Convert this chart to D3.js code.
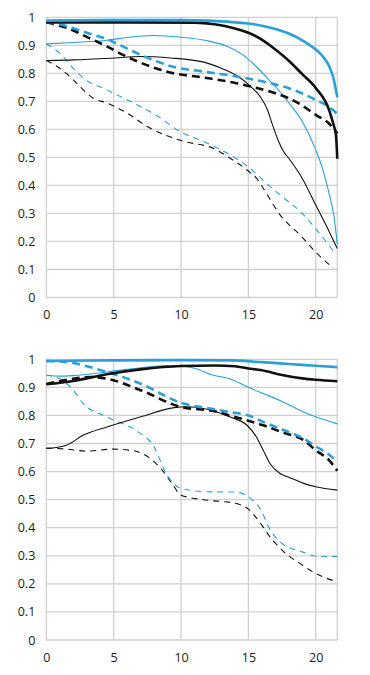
<!DOCTYPE html>
<html>
<head>
<meta charset="utf-8">
<script src="https://cdn.jsdelivr.net/npm/d3@7"></script>
<style>
  body { margin: 0; background: #fff; }
  text { font-family: "Open Sans", "Noto Sans", sans-serif; font-size: 12.5px; fill: #1a1a1a; }
</style>
</head>
<body>
<svg id="chart" width="370" height="675"></svg>
<script>
// axis ticks
var xTicks = [0, 5, 10, 15, 20];
var yTicks = [0, 0.1, 0.2, 0.3, 0.4, 0.5, 0.6, 0.7, 0.8, 0.9, 1];
var xMax = 21.6;

// upper chart  [image height mm, contrast]
var topBlueThick = [[0,.988],[5,.99],[10,.99],[12,.988],[14,.982],[15,.978],[16,.97],[17,.958],[18,.942],[19,.918],[20,.885],[20.5,.862],[21,.825],[21.3,.785],[21.6,.715]];
var topBlackThick = [[0,.982],[6,.982],[11,.981],[12.5,.975],[14,.96],[15,.945],[16,.92],[17,.885],[18,.845],[19,.797],[20,.748],[21,.668],[21.3,.62],[21.5,.58],[21.6,.495]];
var topBlueThickDash = [[0,.982],[1,.975],[2,.961],[3,.945],[4.5,.922],[6,.888],[7,.866],[8.3,.841],[9.2,.826],[11.7,.806],[14.1,.789],[16.6,.765],[18,.747],[19,.728],[20,.705],[21,.68],[21.6,.655]];
var topBlackThickDash = [[0,.982],[1,.97],[2,.953],[3,.93],[4.5,.896],[5.7,.866],[7,.838],[8,.82],[9.2,.803],[11.7,.785],[14.1,.765],[15.1,.754],[16.6,.735],[18,.711],[19,.685],[20,.652],[21,.62],[21.6,.585]];
var topBlueThin = [[0,.905],[2,.91],[4.5,.918],[6,.928],[8,.935],[10,.929],[12,.916],[13.5,.895],[14.6,.866],[15.5,.828],[16.5,.778],[17.3,.737],[18,.695],[19,.628],[20,.527],[20.5,.46],[21,.37],[21.35,.29],[21.6,.19]];
var topBlackThin = [[0,.846],[2,.848],[4.8,.854],[7,.86],[9.2,.855],[11.7,.84],[12.9,.82],[14.1,.793],[15.1,.756],[15.9,.715],[16.4,.672],[16.8,.615],[17.2,.562],[17.6,.522],[18,.497],[19,.425],[20,.33],[21,.235],[21.6,.175]];
var topBlueThinDash = [[0,.905],[1,.872],[2,.818],[2.75,.783],[4.5,.741],[7,.681],[8.3,.646],[10,.59],[11.5,.56],[12.5,.538],[13.65,.509],[15,.466],[16,.423],[17.35,.366],[19,.30],[20,.245],[21,.185],[21.4,.16]];
var topBlackThinDash = [[0,.846],[1,.818],[2,.777],[2.75,.741],[3.5,.711],[4.5,.694],[6,.658],[7.5,.61],[10,.56],[12.5,.53],[13.65,.497],[14.9,.455],[15.6,.426],[16.1,.39],[17.35,.295],[19,.215],[20,.162],[21.3,.105]];

// lower chart
var botBlueThick = [[0,.994],[5,.996],[10,.997],[13.6,.996],[16,.99],[18,.983],[20,.977],[21.6,.972]];
var botBlackThick = [[0,.911],[2,.923],[4.5,.947],[7,.964],[10,.976],[12.5,.978],[14,.975],[15,.967],[16,.961],[17.4,.945],[19,.932],[20,.927],[21.6,.922]];
var botBlueThickDash = [[0,.994],[2,.987],[3,.975],[4.5,.955],[7,.913],[10,.845],[12.5,.822],[13.6,.812],[15,.80],[16.1,.777],[17.5,.75],[19.1,.718],[20,.69],[21,.66],[21.6,.635]];
var botBlackThickDash = [[0,.912],[1,.922],[2,.931],[3.2,.937],[4.5,.931],[7,.89],[10,.83],[12.5,.815],[13.6,.80],[16.1,.765],[17.5,.74],[19.1,.712],[20,.676],[21,.64],[21.6,.603]];
var botBlueThin = [[0,.943],[1,.94],[2,.942],[4.5,.955],[7,.97],[9,.977],[10,.976],[11,.968],[12.4,.943],[13.6,.931],[15,.90],[16.1,.878],[17.5,.85],[19.1,.8125],[20,.795],[21.6,.77]];
var botBlackThin = [[0,.682],[1.5,.694],[2.75,.73],[4.5,.759],[7,.795],[9.5,.828],[10.3,.831],[12.5,.815],[13.6,.795],[14.9,.765],[15.6,.723],[16.1,.676],[16.6,.629],[17.35,.593],[18,.58],[19.1,.558],[20,.546],[21.6,.534]];
var botBlueThinDash = [[0,.943],[1,.931],[2,.89],[2.75,.842],[4.5,.795],[7,.735],[8,.688],[8.3,.658],[8.7,.611],[9.3,.565],[10,.54],[12,.528],[14,.527],[15,.51],[16,.457],[16.5,.403],[17.5,.344],[19,.314],[20,.299],[21.6,.297]];
var botBlackThinDash = [[0,.684],[1.5,.68],[3,.673],[5,.68],[6.5,.674],[7.7,.647],[8.5,.611],[9.3,.56],[10,.516],[12,.498],[14,.487],[15,.466],[16,.409],[16.5,.374],[17.5,.32],[19,.267],[20,.237],[21.6,.207]];

var blue = "#2a9fd9", black = "#111";

var svg = d3.select("#chart");
var x = d3.scaleLinear().domain([0, xMax]).range([46.3, 337.3]);

function panel(top, bottom, lines) {
    var y = d3.scaleLinear().domain([0, 1]).range([bottom, top]);
    var g = svg.append("g");

    // grid
    g.selectAll(".hg").data(yTicks).enter().append("line")
        .attr("x1", x(0)).attr("x2", x(xMax))
        .attr("y1", function(d) { return y(d); }).attr("y2", function(d) { return y(d); })
        .attr("stroke", "#d0d0d0").attr("stroke-width", 1.3);
    g.selectAll(".vg").data(xTicks.concat([xMax])).enter().append("line")
        .attr("x1", function(d) { return x(d); }).attr("x2", function(d) { return x(d); })
        .attr("y1", y(0)).attr("y2", y(1))
        .attr("stroke", "#d0d0d0").attr("stroke-width", 1.3);

    // tick labels
    var ya = g.append("g").attr("transform", "translate(" + x(0) + ",0)")
        .call(d3.axisLeft(y).tickValues(yTicks).tickSize(0).tickPadding(11).tickFormat(function(d) { return d3.format("~g")(d); }));
    var xa = g.append("g").attr("transform", "translate(0," + y(0) + ")")
        .call(d3.axisBottom(x).tickValues(xTicks).tickSize(0).tickPadding(13));
    [ya, xa].forEach(function(a) {
        a.select(".domain").remove();
        a.selectAll("text").attr("font-family", null).attr("font-size", null).attr("fill", null);
    });

    var line = d3.line()
        .x(function(d) { return x(d[0]); })
        .y(function(d) { return y(d[1]); })
        .curve(d3.curveMonotoneX);

    lines.forEach(function(s) {
        g.append("path")
            .datum(s.data)
            .attr("d", line)
            .attr("fill", "none")
            .attr("stroke", s.color)
            .attr("stroke-width", s.thick ? 2.6 : 1.1)
            .attr("stroke-dasharray", s.dash ? (s.thick ? "8,5" : "6,5") : null);
    });
}

panel(17.3, 297.5, [
    { data: topBlackThinDash, color: black, thick: false, dash: true },
    { data: topBlueThinDash, color: blue, thick: false, dash: true },
    { data: topBlackThin, color: black, thick: false, dash: false },
    { data: topBlueThin, color: blue, thick: false, dash: false },
    { data: topBlackThickDash, color: black, thick: true, dash: true },
    { data: topBlueThickDash, color: blue, thick: true, dash: true },
    { data: topBlackThick, color: black, thick: true, dash: false },
    { data: topBlueThick, color: blue, thick: true, dash: false }
]);

panel(359.3, 640, [
    { data: botBlackThinDash, color: black, thick: false, dash: true },
    { data: botBlueThinDash, color: blue, thick: false, dash: true },
    { data: botBlackThin, color: black, thick: false, dash: false },
    { data: botBlueThin, color: blue, thick: false, dash: false },
    { data: botBlackThickDash, color: black, thick: true, dash: true },
    { data: botBlueThickDash, color: blue, thick: true, dash: true },
    { data: botBlackThick, color: black, thick: true, dash: false },
    { data: botBlueThick, color: blue, thick: true, dash: false }
]);
</script>
</body>
</html>
